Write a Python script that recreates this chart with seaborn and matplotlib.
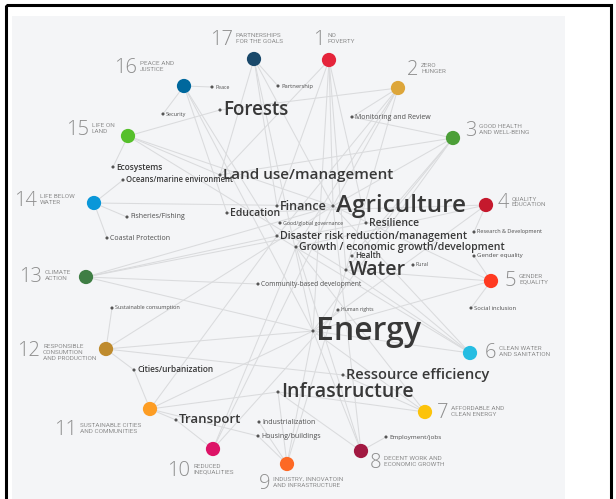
import pandas as pd
import seaborn as sns
import matplotlib.pyplot as plt
from matplotlib.patches import Rectangle

# SDG goals
goal_num = list(range(1, 18))
goal_title = [
    "NO\nPOVERTY", "ZERO\nHUNGER", "GOOD HEALTH\nAND WELL-BEING", "QUALITY\nEDUCATION",
    "GENDER\nEQUALITY", "CLEAN WATER\nAND SANITATION", "AFFORDABLE AND\nCLEAN ENERGY",
    "DECENT WORK AND\nECONOMIC GROWTH", "INDUSTRY, INNOVATOIN\nAND INFRASTRUCTURE",
    "REDUCED\nINEQUALITIES", "SUSTAINABLE CITIES\nAND COMMUNITIES",
    "RESPONSIBLE\nCONSUMTION\nAND PRODUCTION", "CLIMATE\nACTION", "LIFE BELOW\nWATER",
    "LIFE ON\nLAND", "PEACE AND\nJUSTICE", "PARTNERSHIPS\nFOR THE GOALS",
]
goal_color = [
    "#e5243b", "#dda63a", "#4c9f38", "#c5192d", "#ff3a21", "#26bde2", "#fcc30b",
    "#a21942", "#fd6925", "#dd1367", "#fd9d24", "#bf8b2e", "#3f7e44", "#0a97d9",
    "#56c02b", "#00689d", "#19486a",
]

# topics mentioned
topic_name = [
    "Forests", "Land use/management", "Agriculture", "Finance", "Education",
    "Good/global governance", "Resilience", "Disaster risk reduction/management",
    "Growth / economic growth/development", "Health", "Water", "Rural",
    "Community-based development", "Human rights", "Energy", "Ressource efficiency",
    "Infrastructure", "Transport", "Industrialization", "Housing/buildings",
    "Employment/jobs", "Cities/urbanization", "Sustainable consumption",
    "Coastal Protection", "Fisheries/Fishing", "Oceans/marine environment",
    "Ecosystems", "Security", "Peace", "Partnership", "Monitoring and Review",
    "Research & Development", "Gender equality", "Social inclusion",
]

# links goal -> topic
edges = [
    (1, "Agriculture"), (1, "Finance"), (1, "Water"), (1, "Energy"), (1, "Resilience"), (1, "Land use/management"),
    (2, "Forests"), (2, "Agriculture"), (2, "Monitoring and Review"), (2, "Growth / economic growth/development"),
    (2, "Water"), (2, "Disaster risk reduction/management"),
    (3, "Monitoring and Review"), (3, "Health"), (3, "Water"), (3, "Land use/management"), (3, "Agriculture"),
    (3, "Energy"),
    (4, "Research & Development"), (4, "Education"), (4, "Growth / economic growth/development"), (4, "Energy"),
    (5, "Gender equality"), (5, "Social inclusion"), (5, "Agriculture"), (5, "Energy"), (5, "Water"),
    (6, "Water"), (6, "Energy"), (6, "Health"), (6, "Agriculture"), (6, "Disaster risk reduction/management"),
    (7, "Energy"), (7, "Ressource efficiency"), (7, "Infrastructure"), (7, "Growth / economic growth/development"),
    (8, "Employment/jobs"), (8, "Growth / economic growth/development"), (8, "Infrastructure"), (8, "Energy"),
    (8, "Agriculture"),
    (9, "Industrialization"), (9, "Housing/buildings"), (9, "Infrastructure"), (9, "Energy"), (9, "Water"),
    (10, "Transport"), (10, "Agriculture"), (10, "Growth / economic growth/development"), (10, "Human rights"),
    (11, "Cities/urbanization"), (11, "Transport"), (11, "Infrastructure"), (11, "Housing/buildings"),
    (11, "Disaster risk reduction/management"), (11, "Energy"),
    (12, "Sustainable consumption"), (12, "Cities/urbanization"), (12, "Energy"), (12, "Ressource efficiency"),
    (12, "Agriculture"),
    (13, "Disaster risk reduction/management"), (13, "Energy"), (13, "Agriculture"), (13, "Resilience"),
    (13, "Community-based development"),
    (14, "Oceans/marine environment"), (14, "Fisheries/Fishing"), (14, "Coastal Protection"), (14, "Agriculture"),
    (15, "Forests"), (15, "Ecosystems"), (15, "Land use/management"), (15, "Water"), (15, "Agriculture"),
    (16, "Peace"), (16, "Security"), (16, "Disaster risk reduction/management"), (16, "Energy"), (16, "Education"),
    (17, "Partnership"), (17, "Finance"), (17, "Land use/management"), (17, "Agriculture"), (17, "Energy"),
]

# ---- layout (pixel space of the original graphic) ----
goal_x = [329, 398, 453, 486, 491, 470, 425, 361, 287, 213, 150, 106, 86, 94, 128, 184, 254]
goal_y = [60, 88, 138, 205, 281, 353, 412, 451, 464, 449, 409, 349, 277, 203, 136, 86, 59]
caption_x = [328, 421, 479, 512, 519, 499, 451, 384, 273, 193, 80, 43, 45, 40, 92, 140, 236]
number_y = [40, 70, 131, 203, 281, 353, 413, 463, 484, 471, 430, 351, 277, 201, 130, 68, 40]

topic_x = [220, 220, 333, 277, 227, 280, 366, 277, 296, 352, 346, 413, 258, 338, 313, 343,
           278, 176, 259, 258, 386, 134, 112, 107, 127, 123, 113, 163, 212, 278, 352, 474, 474, 471]
topic_y = [110, 175, 206, 206, 213, 223, 223, 236, 247, 256, 270, 265, 284, 310, 331, 375,
           392, 420, 422, 436, 437, 370, 308, 238, 217, 180, 167, 114, 87, 86, 117, 232, 256, 308]
topic_fs = [13.5, 11, 17.5, 9, 7.5, 3.8, 7.5, 7.6, 7.6, 5.8, 14, 3.8, 4.8, 3.7, 23, 10.5,
            14, 9.5, 5, 5, 4.6, 6, 4, 5, 5, 5.5, 6, 4, 3.8, 4.2, 5, 4, 4.4, 4.2]

goals = pd.DataFrame({"goal": goal_num, "x": goal_x, "y": goal_y})
topics = pd.DataFrame({"topic": topic_name, "x": topic_x, "y": topic_y, "fs": topic_fs})
gpos = goals.set_index("goal")
tpos = topics.set_index("topic")

sns.set_theme(style="white")
plt.rcParams['font.family'] = ['Open Sans', 'DejaVu Sans']

fig = plt.figure(figsize=(6.16, 4.99), dpi=100)
ax = fig.add_axes([0, 0, 1, 1])
ax.set_xlim(0, 616)
ax.set_ylim(499, 0)
ax.set_axis_off()

# panel and outer frame
ax.add_patch(Rectangle((12, 16), 553, 490, fc="#f4f5f7", ec="none", zorder=0))
ax.add_patch(Rectangle((6, 5), 605, 510, fill=False, ec="black", lw=2.2, zorder=10))

for g, t in edges:
    ax.plot([gpos.loc[g, "x"], tpos.loc[t, "x"]], [gpos.loc[g, "y"], tpos.loc[t, "y"]],
            color="#dadbdd", lw=0.75, zorder=1, solid_capstyle="round")

sns.scatterplot(data=topics, x="x", y="y", color="#555555", s=5, edgecolor="none",
                ax=ax, zorder=3, legend=False)
sns.scatterplot(data=goals, x="x", y="y", hue="goal", palette=goal_color, s=105,
                edgecolor="none", ax=ax, zorder=4, legend=False)

for _, r in topics.iterrows():
    big = r.fs >= 5.5
    ax.text(r.x + 3, r.y, r.topic, fontsize=r.fs, va="center", ha="left",
            color="#383838" if big else "#4d4d4d",
            fontweight="semibold" if big else "normal", zorder=5)

for i, n in enumerate(goal_num):
    ax.text(caption_x[i] - 3, number_y[i], str(n), fontsize=14.5, fontweight="light",
            color="#8e8e8e", ha="right", va="center", zorder=5)
    ax.text(caption_x[i], number_y[i] - 7, goal_title[i], fontsize=4.6, color="#8c8c8c",
            ha="left", va="top", linespacing=1.2, zorder=5,
            family=["Roboto", "DejaVu Sans"])

fig.savefig("out.png", dpi=100)
